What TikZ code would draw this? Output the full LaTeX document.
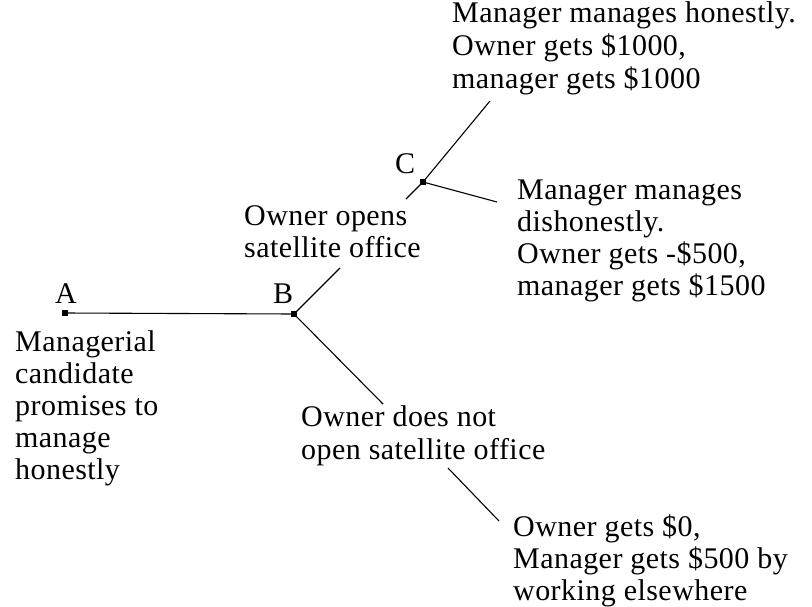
\documentclass[tikz,border=0pt]{standalone}
\usepackage{fontspec}
\newfontfamily\treefont[LetterSpace=1.5]{Liberation Serif}
\newcommand\tlines[2]{\vtop{\baselineskip=#1\lineskiplimit=-20pt\halign{##\hfil\cr#2\crcr}}}
\begin{document}
\begin{tikzpicture}[x=1pt,y=-1pt,
  lbl/.style={inner sep=0pt, anchor=base west, font={\treefont\fontsize{30}{33}\selectfont}},
  dot/.style={fill=black, draw=none, inner sep=0pt, minimum size=6.5pt, rectangle},
  edge/.style={line width=1.1pt, black}]
\useasboundingbox (0,0) rectangle (812,606);
% decision points
\node[dot] (A) at (65,313) {};
\node[dot] (B) at (294,314) {};
\node[dot] (C) at (423,182) {};
% point labels
\node[lbl] (la) at (55,303) {A};
\node[lbl] (lb) at (273,303) {B};
\node[lbl] (lc) at (395,173) {C};
% text blocks
\node[lbl] (t1) at (452,22) {\tlines{33pt}{Manager manages honestly.\cr Owner gets \$1000,\cr manager gets \$1000}};
\node[lbl] (t2) at (517,199) {\tlines{32.3pt}{Manager manages\cr dishonestly.\cr Owner gets -\$500,\cr manager gets \$1500}};
\node[lbl] (t3) at (244,225) {\tlines{32pt}{Owner opens\cr satellite office}};
\node[lbl] (t4) at (15,351) {\tlines{32pt}{Managerial\cr candidate\cr promises to\cr manage\cr honestly}};
\node[lbl] (t5) at (301,426) {\tlines{33pt}{Owner does not\cr open satellite office}};
\node[lbl] (t6) at (513,536) {\tlines{32pt}{Owner gets \$0,\cr Manager gets \$500 by\cr working elsewhere}};
% connector ends
\coordinate (bc1) at (340,268);
\coordinate (bc2) at (406,199);
\coordinate (cu) at (490,101);
\coordinate (cr) at (497,202);
\coordinate (bd1) at (383,404);
\coordinate (bd2) at (448,468);
\coordinate (bd3) at (499,521);
% connectors
\draw[edge] (A.center) -- (B.center);
\draw[edge] (B.center) -- (bc1);
\draw[edge] (bc2) -- (C.center);
\draw[edge] (C.center) -- (cu);
\draw[edge] (C.center) -- (cr);
\draw[edge] (B.center) -- (bd1);
\draw[edge] (bd2) -- (bd3);
\end{tikzpicture}
\end{document}
